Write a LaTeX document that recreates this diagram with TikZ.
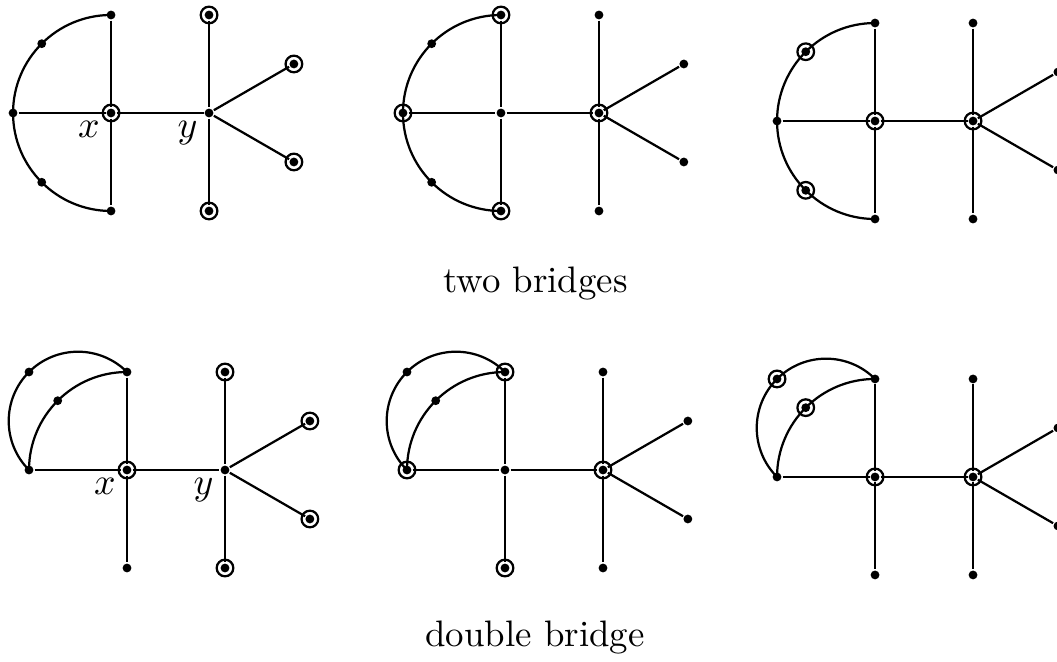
\documentclass[tikz,border=0pt]{standalone}

\tikzset{
  dot/.style = {circle, fill = black, inner sep = 0pt, minimum size = 0.9mm},
  ring/.style = {circle, draw, inner sep = 0pt, minimum size = 1.7mm},
  lbl/.style = {below left, inner sep = 2pt, xshift = -1pt}
}

\newcommand{\fishbase}[2]{%
  \begin{scope}[shift = {#2}]
    \node [dot] (#1x) at (0,0) {};
    \node [dot] (#1l) at (-1,0) {};
    \node [dot] (#1xt) at (0,1) {};
    \node [dot] (#1xb) at (0,-1) {};
    \node [dot] (#1y) at (1,0) {};
    \node [dot] (#1yt) at (1,1) {};
    \node [dot] (#1yb) at (1,-1) {};
    \node [dot] (#1ru) at (1.866,0.5) {};
    \node [dot] (#1rd) at (1.866,-0.5) {};
  \end{scope}
  \draw (#1l) -- (#1x) -- (#1y);
  \draw (#1xt) -- (#1x) -- (#1xb);
  \draw (#1yt) -- (#1y) -- (#1yb);
  \draw (#1ru) -- (#1y) -- (#1rd);
}

\newcommand{\twobridges}[2]{%
  \fishbase{#1}{#2}
  \begin{scope}[shift = {#2}]
    \node [dot] (#1pa) at (135:1) {};
    \node [dot] (#1pb) at (225:1) {};
  \end{scope}
  \draw (#1xt.center) arc [start angle = 90, end angle = 270, radius = 1];
}

\newcommand{\doublebridge}[2]{%
  \fishbase{#1}{#2}
  \begin{scope}[shift = {#2}]
    \node [dot] (#1pa) at (-1,1) {};
    \node [dot] (#1pb) at (135:1) {};
  \end{scope}
  \draw (#1l.center) arc [start angle = 180, end angle = 90, radius = 1];
  \draw (#1xt.center) arc [start angle = 45, end angle = 225, radius = 0.7071];
}

\begin{document}
\begin{tikzpicture}[line width = 0.65pt, font = \fontsize{10.7}{13}\selectfont]
\useasboundingbox (0,0) rectangle (10.786,6.755);
\twobridges{a}{(1.133,5.602)}
\twobridges{b}{(5.112,5.602)}
\twobridges{c}{(8.929,5.520)}
\doublebridge{d}{(1.296,1.959)}
\doublebridge{e}{(5.153,1.959)}
\doublebridge{f}{(8.929,1.888)}
\foreach \m in {ax, ayt, ayb, aru, ard, bl, bxt, bxb, by, cpa, cpb, cx, cy,
                dx, dyt, dyb, dru, drd, el, ext, exb, ey, fpa, fpb, fx, fy}
  \node [ring] (\m r) at (\m) {};
\node [lbl] (ax-lbl) at (ax) {$x$};
\node [lbl] (ay-lbl) at (ay) {$y$};
\node [lbl] (dx-lbl) at (dx) {$x$};
\node [lbl] (dy-lbl) at (dy) {$y$};
\node (ttwo) at (5.464,3.867) {two bridges};
\node (tdouble) at (5.459,0.245) {double bridge};
\end{tikzpicture}
\end{document}
